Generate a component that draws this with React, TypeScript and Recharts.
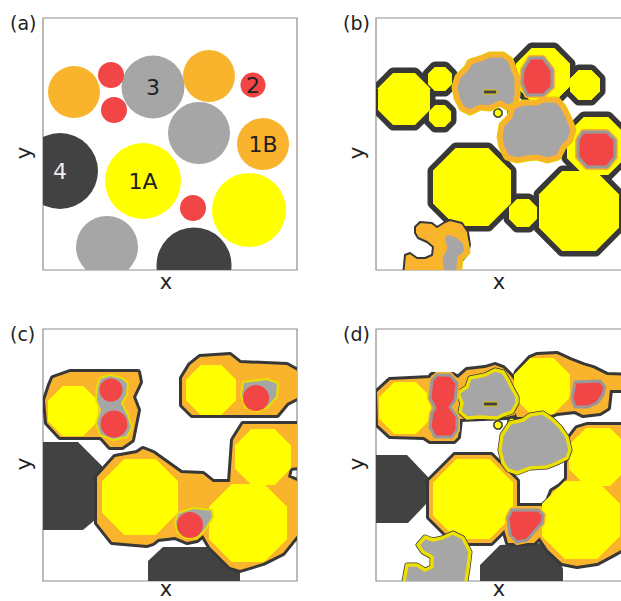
import React from "react";
import { ReferenceArea, Scatter, ScatterChart, XAxis, YAxis } from "recharts";

// every panel shares the same box: data units are pixels of the plot area
const X_MAX = 254;
const Y_MAX = 252;
const PLOT_W = 254;
const K = PLOT_W / X_MAX;

const YELLOW = "#ffff00";
const ORANGE = "#f9b32c";
const RED = "#f24646";
const GRAY = "#a6a6a6";
const DARK = "#424242";
const LINE = "#383838";
const FRAME = "#8e8e8e";
const TEXT = "#222222";
const FONT = "'DejaVu Sans', Verdana, sans-serif";

// ---- (a) particles: centre x, y and radius
const aOrange = [
  { x: 31, y: 74, r: 26 },
  { x: 166, y: 58, r: 26 },
  { x: 220, y: 126, r: 26, label: "1B" },
];
const aRed = [
  { x: 68, y: 57, r: 13 },
  { x: 71, y: 92, r: 13 },
  { x: 210, y: 67, r: 12.5, label: "2" },
  { x: 150, y: 190, r: 13 },
];
const aGray = [
  { x: 110, y: 69, r: 31.5, label: "3" },
  { x: 156, y: 115, r: 31 },
  { x: 64, y: 229, r: 31 },
];
const aDark = [
  { x: 17, y: 153, r: 38, label: "4" },
  { x: 151, y: 247, r: 37.5 },
];
const aYellow = [
  { x: 100, y: 163, r: 38, label: "1A" },
  { x: 206, y: 192, r: 37 },
];

// ---- (b)
const bYellow = [
  { x: 28, y: 81, r: 26 },
  { x: 64, y: 61, r: 12 },
  { x: 64, y: 98, r: 11 },
  { x: 167, y: 57, r: 27 },
  { x: 209, y: 67, r: 15 },
  { x: 220, y: 128, r: 29 },
  { x: 96, y: 169, r: 39 },
  { x: 147, y: 195, r: 14 },
  { x: 203, y: 193, r: 40 },
];
const bDots = [
  { x: 122, y: 95, r: 4 },
  { x: 136, y: 94, r: 4 },
];
const bOrange = [
  [[39, 209], [44, 204], [56, 205], [61, 209], [69, 204], [74, 202], [86, 205], [92, 214], [94, 227], [91, 237], [84, 245], [84, 258], [27, 258], [29, 237], [34, 235], [41, 240], [49, 240], [56, 237], [57, 229], [51, 224], [42, 220], [39, 215]],
];
const bGray = [
  [[82, 59], [91, 50], [94, 44], [107, 40], [114, 37], [127, 37], [134, 42], [137, 50], [141, 60], [141, 77], [139, 87], [131, 89], [124, 85], [114, 90], [104, 89], [94, 94], [86, 90], [81, 80], [79, 69]],
  [[126, 107], [134, 99], [137, 89], [147, 85], [161, 85], [167, 82], [181, 82], [187, 89], [192, 99], [197, 112], [194, 122], [187, 129], [182, 139], [171, 142], [161, 139], [151, 140], [141, 142], [131, 139], [126, 129], [124, 119]],
  [[71, 214], [81, 217], [89, 224], [91, 234], [84, 240], [82, 258], [66, 258], [64, 240], [69, 230], [66, 220]],
];
const bSlits = [[[108, 72], [120, 72], [121, 74], [120, 76], [108, 76], [107, 74]]];
const bRed = [
  [[154, 40], [167, 40], [176, 52], [176, 69], [167, 77], [151, 77], [146, 65], [147, 52]],
  [[207, 114], [231, 114], [239, 122], [239, 139], [231, 149], [211, 149], [202, 139], [202, 122]],
];

// ---- (c)
const cDark = [
  [[-5, 113], [35, 113], [59, 137], [59, 185], [40, 201], [-5, 201]],
  [[105, 232], [120, 218], [165, 218], [197, 240], [197, 258], [105, 258]],
];
const cHalo = [
  [[10, 49], [27, 43], [95, 43], [97, 53], [90, 68], [95, 81], [92, 96], [89, 111], [79, 118], [67, 118], [59, 109], [57, 108], [17, 108], [4, 94], [2, 71], [7, 56]],
  [[139, 49], [147, 36], [157, 28], [187, 26], [197, 34], [244, 36], [256, 43], [256, 68], [244, 74], [234, 86], [149, 86], [139, 76]],
  [[54, 148], [72, 128], [94, 124], [100, 120], [110, 124], [138, 144], [160, 145], [170, 153], [187, 153], [190, 111], [200, 95], [256, 95], [256, 138], [247, 139], [245, 148], [256, 153], [256, 204], [240, 224], [220, 234], [197, 241], [187, 238], [167, 218], [160, 206], [154, 211], [144, 213], [132, 208], [115, 210], [110, 214], [104, 216], [69, 213], [54, 194]],
];
const cYellow = [
  { x: 30, y: 82, r: 25 },
  { x: 168, y: 61, r: 25 },
  { x: 97, y: 168, r: 38 },
  { x: 205, y: 194, r: 39 },
  { x: 220, y: 128, r: 28 },
];
const cGray = [
  [[57, 49], [67, 46], [79, 49], [85, 54], [84, 66], [79, 74], [85, 86], [89, 98], [84, 108], [70, 111], [57, 106], [53, 94], [57, 81], [53, 71], [54, 58]],
  [[200, 53], [224, 50], [235, 54], [234, 68], [225, 78], [214, 83], [202, 78], [198, 66]],
  [[135, 184], [150, 179], [169, 181], [170, 188], [162, 201], [154, 209], [142, 209], [134, 203], [132, 193]],
];
const cRed = [
  { x: 68, y: 61, r: 11.5 },
  { x: 71, y: 95, r: 13.5 },
  { x: 213, y: 69, r: 13 },
  { x: 147, y: 196, r: 13 },
];

// ---- (d)
const dDark = [
  [[-5, 126], [31, 126], [52, 148], [52, 173], [32, 194], [-5, 194]],
  [[104, 236], [124, 216], [167, 214], [182, 228], [187, 240], [187, 258], [104, 258]],
];
const dHalo = [
  [[2, 96], [1, 63], [14, 51], [54, 49], [56, 46], [77, 46], [82, 49], [91, 41], [109, 39], [119, 36], [127, 39], [134, 46], [141, 55], [143, 75], [139, 86], [130, 88], [84, 90], [82, 108], [78, 112], [54, 112], [48, 108], [14, 107]],
  [[141, 43], [154, 29], [161, 26], [181, 25], [194, 31], [207, 36], [217, 39], [231, 46], [256, 47], [256, 61], [234, 61], [232, 79], [224, 84], [207, 86], [199, 82], [181, 84], [171, 88], [141, 88], [137, 76], [137, 55]],
  [[194, 108], [201, 99], [211, 96], [256, 96], [256, 215], [236, 226], [221, 234], [201, 237], [186, 234], [172, 221], [162, 206], [162, 181], [172, 172], [176, 162], [184, 157], [191, 150], [191, 134], [194, 124]],
  [[129, 182], [134, 177], [170, 177], [172, 190], [166, 206], [158, 214], [132, 214], [128, 200]],
];
const dHaloDiscs = [{ x: 97, y: 170, r: 44 }];
const dYellow = [
  { x: 29, y: 79, r: 26 },
  { x: 166, y: 57, r: 28 },
  { x: 97, y: 170, r: 40 },
  { x: 222, y: 128, r: 29 },
  { x: 205, y: 191, r: 39 },
];
const dDots = [
  { x: 122, y: 96, r: 4 },
  { x: 136, y: 93, r: 4 },
];
const dGray = [
  [[91, 58], [94, 49], [109, 46], [119, 41], [127, 43], [132, 51], [136, 59], [141, 68], [141, 74], [136, 83], [127, 86], [121, 89], [104, 88], [91, 89], [84, 83], [86, 74], [82, 64]],
  [[126, 106], [134, 94], [147, 91], [154, 86], [167, 84], [177, 91], [184, 98], [191, 108], [194, 121], [191, 129], [181, 134], [171, 138], [154, 139], [141, 144], [132, 141], [127, 134], [124, 121]],
  [[42, 216], [49, 208], [57, 211], [66, 209], [77, 204], [87, 209], [94, 223], [92, 239], [89, 258], [27, 258], [31, 236], [41, 236], [49, 241], [56, 238], [56, 228], [47, 223]],
];
const dSlits = [[[108, 73], [121, 73], [122, 75], [121, 77], [108, 77], [107, 75]]];
const dRed = [
  [[56, 51], [61, 46], [74, 46], [81, 54], [79, 71], [74, 78], [81, 88], [81, 101], [76, 108], [59, 108], [54, 98], [56, 84], [59, 79], [54, 69]],
  [[199, 53], [224, 52], [229, 58], [227, 66], [221, 74], [212, 78], [199, 78], [196, 69]],
  [[136, 181], [162, 181], [167, 186], [166, 194], [157, 204], [151, 211], [141, 213], [134, 206], [132, 189]],
];

type Disc = { x: number; y: number; r: number; label?: string };
type Paint = React.SVGProps<SVGPolygonElement>;

const pts = (poly: number[][]) => poly.map(([x, y]) => ({ x, y }));

const octagon = (cx: number, cy: number, r: number) => {
  const R = r / Math.cos(Math.PI / 8);
  const out: string[] = [];
  for (let i = 0; i < 8; i++) {
    const a = Math.PI / 8 + (i * Math.PI) / 4;
    out.push(`${cx + R * Math.cos(a)},${cy + R * Math.sin(a)}`);
  }
  return out.join(" ");
};

const noShape = () => <g />;

const polyLine = (paints: Paint[]) => (props: any) => {
  const d = (props.points || []).map((p: any) => `${p.x},${p.y}`).join(" ");
  return (
    <g>
      {paints.map((s, i) => (
        <polygon key={i} points={d} strokeLinejoin="round" {...s} />
      ))}
    </g>
  );
};

const discShape = (paints: Paint[], round: boolean) => (props: any) => {
  const { cx, cy, payload } = props;
  const r = payload.r * K;
  return (
    <g>
      {paints.map((s, i) =>
        round ? (
          <circle key={i} cx={cx} cy={cy} r={r} {...(s as any)} />
        ) : (
          <polygon key={i} points={octagon(cx, cy, r)} strokeLinejoin="round" {...s} />
        )
      )}
    </g>
  );
};

const circleShape = (fill: string, textFill: string) => (props: any) => {
  const { cx, cy, payload } = props;
  return (
    <g>
      <circle cx={cx} cy={cy} r={payload.r * K} fill={fill} />
      {payload.label ? (
        <text x={cx} y={cy + 8} textAnchor="middle" fontSize={22} fontFamily={FONT} fill={textFill}>
          {payload.label}
        </text>
      ) : null}
    </g>
  );
};

type Spec = {
  dark?: number[][][];
  haloPolys?: number[][][];
  haloDiscs?: Disc[];
  haloWidth: number;
  haloFill: string;
  yellow: Disc[];
  dots?: Disc[];
  orange?: number[][][];
  gray?: number[][][];
  grayPaint: Paint[];
  slits?: number[][][];
  redPolys?: number[][][];
  redDiscs?: Disc[];
  redPaint: Paint[];
};

function layers(s: Spec) {
  const out: React.ReactNode[] = [];
  const addPolys = (key: string, polys: number[][][] | undefined, paints: Paint[]) => {
    (polys || []).forEach((poly, i) =>
      out.push(
        <Scatter
          key={key + i}
          data={pts(poly)}
          line={polyLine(paints)}
          lineType="joint"
          shape={noShape}
          isAnimationActive={false}
        />
      )
    );
  };
  const addDiscs = (key: string, discs: Disc[] | undefined, paints: Paint[], round = false) => {
    if (discs && discs.length)
      out.push(<Scatter key={key} data={discs} shape={discShape(paints, round)} isAnimationActive={false} />);
  };
  const edge = { fill: LINE, stroke: LINE, strokeWidth: s.haloWidth };
  addPolys("dk", s.dark, [{ fill: DARK }]);
  addPolys("ha", s.haloPolys, [edge]);
  addDiscs("had", s.haloDiscs, [edge]);
  addPolys("hb", s.haloPolys, [{ fill: s.haloFill }]);
  addDiscs("hbd", s.haloDiscs, [{ fill: s.haloFill }]);
  addDiscs("ye", s.yellow, [{ fill: YELLOW }]);
  addDiscs("dot", s.dots, [{ fill: YELLOW, stroke: LINE, strokeWidth: 1.5 }]);
  addPolys("or", s.orange, [{ fill: ORANGE, stroke: LINE, strokeWidth: 2 }]);
  addPolys("gr", s.gray, s.grayPaint);
  addPolys("sl", s.slits, [{ fill: DARK, stroke: "#e2c400", strokeWidth: 1 }]);
  addPolys("rp", s.redPolys, s.redPaint);
  addDiscs("rd", s.redDiscs, s.redPaint, true);
  return out;
}

const yLabel = (tag: string) => (p: any) => {
  const vb = p.viewBox || { x: 0, y: 18, width: 43, height: Y_MAX };
  const lx = vb.x + 31;
  const ly = vb.y + vb.height / 2 + 9;
  return (
    <g>
      <text x={vb.x + 10} y={vb.y + 12} fontSize={19} fontFamily={FONT} fill={TEXT}>
        {tag}
      </text>
      <text x={lx} y={ly} transform={`rotate(-90 ${lx} ${ly})`} textAnchor="middle" fontSize={22} fontFamily={FONT} fill={TEXT}>
        y
      </text>
    </g>
  );
};

const xLabel = (drop: number) => (p: any) => {
  const vb = p.viewBox || { x: 43, y: 270, width: PLOT_W, height: 30 };
  return (
    <text x={vb.x + vb.width / 2 - 4} y={vb.y + drop} textAnchor="middle" fontSize={21} fontFamily={FONT} fill={TEXT}>
      x
    </text>
  );
};

function Panel({ tag, drop, children }: { tag: string; drop: number; children: React.ReactNode }) {
  return (
    <ScatterChart width={310} height={300} margin={{ top: 18, right: 13, bottom: 0, left: 0 }}>
      <XAxis
        type="number"
        dataKey="x"
        domain={[0, X_MAX]}
        allowDataOverflow
        tick={false}
        tickLine={false}
        axisLine={false}
        height={30}
        label={xLabel(drop)}
      />
      <YAxis
        type="number"
        dataKey="y"
        domain={[0, Y_MAX]}
        reversed
        allowDataOverflow
        tick={false}
        tickLine={false}
        axisLine={false}
        width={43}
        label={yLabel(tag)}
      />
      {children}
      <ReferenceArea x1={0} x2={X_MAX} y1={0} y2={Y_MAX} fill="none" stroke={FRAME} strokeWidth={1.2} ifOverflow="visible" />
    </ScatterChart>
  );
}

const specB: Spec = {
  haloDiscs: bYellow,
  haloWidth: 11,
  haloFill: YELLOW,
  yellow: bYellow,
  dots: bDots,
  orange: bOrange,
  gray: bGray,
  grayPaint: [
    { fill: "#e4d000", stroke: "#e4d000", strokeWidth: 7 },
    { fill: GRAY, stroke: ORANGE, strokeWidth: 5 },
  ],
  slits: bSlits,
  redPolys: bRed,
  redPaint: [
    { fill: ORANGE, stroke: ORANGE, strokeWidth: 6 },
    { fill: RED, stroke: "#999999", strokeWidth: 3 },
  ],
};

const specC: Spec = {
  dark: cDark,
  haloPolys: cHalo,
  haloWidth: 6,
  haloFill: ORANGE,
  yellow: cYellow,
  gray: cGray,
  grayPaint: [{ fill: GRAY, stroke: "#e8e000", strokeWidth: 2 }],
  redDiscs: cRed,
  redPaint: [{ fill: RED }],
};

const specD: Spec = {
  dark: dDark,
  haloPolys: dHalo,
  haloDiscs: dHaloDiscs,
  haloWidth: 6,
  haloFill: ORANGE,
  yellow: dYellow,
  dots: dDots,
  gray: dGray,
  grayPaint: [
    { fill: LINE, stroke: LINE, strokeWidth: 5 },
    { fill: GRAY, stroke: "#ece000", strokeWidth: 3.5 },
  ],
  slits: dSlits,
  redPolys: dRed,
  redPaint: [
    { fill: ORANGE, stroke: ORANGE, strokeWidth: 6 },
    { fill: RED, stroke: "#999999", strokeWidth: 3 },
  ],
};

export default function App() {
  const pos = (left: number, top: number): React.CSSProperties => ({ position: "absolute", left, top });
  return (
    <div style={{ position: "fixed", left: 0, top: 0, width: 621, height: 601, overflow: "hidden", background: "#fff" }}>
      <div style={pos(0, 0)}>
        <Panel tag="(a)" drop={19}>
          <Scatter data={aDark} shape={circleShape(DARK, "#eeeeee")} isAnimationActive={false} />
          <Scatter data={aGray} shape={circleShape(GRAY, TEXT)} isAnimationActive={false} />
          <Scatter data={aOrange} shape={circleShape(ORANGE, TEXT)} isAnimationActive={false} />
          <Scatter data={aRed} shape={circleShape(RED, TEXT)} isAnimationActive={false} />
          <Scatter data={aYellow} shape={circleShape(YELLOW, TEXT)} isAnimationActive={false} />
        </Panel>
      </div>
      <div style={pos(333, 0)}>
        <Panel tag="(b)" drop={19}>{layers(specB)}</Panel>
      </div>
      <div style={pos(0, 311)}>
        <Panel tag="(c)" drop={15}>{layers(specC)}</Panel>
      </div>
      <div style={pos(333, 311)}>
        <Panel tag="(d)" drop={15}>{layers(specD)}</Panel>
      </div>
    </div>
  );
}
